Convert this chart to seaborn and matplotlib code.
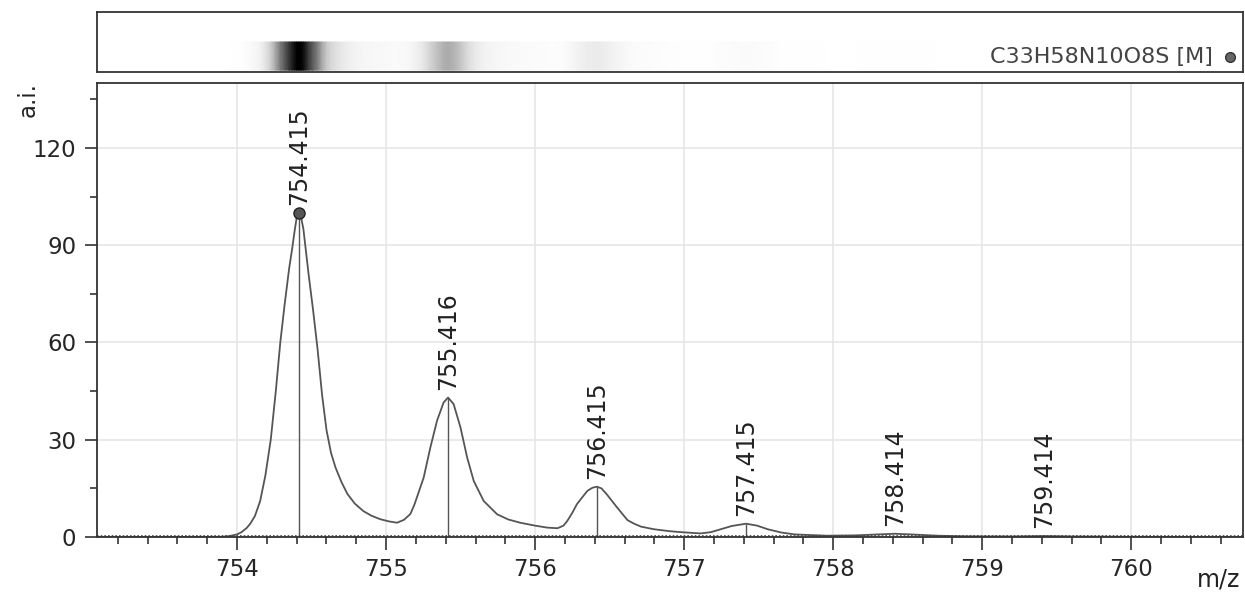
import numpy as np
import pandas as pd
import matplotlib
matplotlib.use("Agg")
import matplotlib.pyplot as plt
import seaborn as sns
from matplotlib.ticker import MultipleLocator

# profile (m/z, a.i.)
mz = [753.06, 753.9, 753.95, 754.0, 754.03, 754.065, 754.09, 754.12, 754.155, 754.19,
      754.226, 754.26, 754.29, 754.32, 754.35, 754.37, 754.385, 754.40, 754.415,
      754.43, 754.445, 754.46, 754.48, 754.51, 754.54, 754.57, 754.60, 754.63, 754.66,
      754.70, 754.74, 754.79, 754.847, 754.90, 754.96, 755.02, 755.073, 755.12, 755.163,
      755.19, 755.22, 755.252, 755.297, 755.342, 755.386, 755.416, 755.453, 755.499, 755.544,
      755.588, 755.655, 755.745, 755.82, 755.90, 756.0, 756.08, 756.15, 756.19, 756.215,
      756.25, 756.28, 756.35, 756.385, 756.415, 756.445, 756.48, 756.55, 756.62, 756.66,
      756.71, 756.796, 756.9, 756.977, 757.11, 757.18, 757.246, 757.32, 757.415, 757.49,
      757.56, 757.65, 757.74, 757.96, 758.15, 758.3, 758.414, 758.52, 758.7, 758.9,
      759.2, 759.414, 759.6, 760.0, 760.75]
intensity = [0.0, 0.05, 0.3, 0.8, 1.5, 2.8, 4.2, 6.5, 11.1, 19.0,
             30.0, 45.0, 60.0, 72.0, 83.0, 89.0, 94.0, 98.5, 100.0,
             98.5, 95.0, 89.0, 81.0, 70.0, 58.0, 44.0, 33.0, 26.0, 21.5,
             17.0, 13.3, 10.3, 8.0, 6.6, 5.5, 4.8, 4.4, 5.3, 7.1,
             10.0, 14.0, 18.3, 27.6, 35.9, 41.5, 43.0, 41.0, 33.8, 24.5,
             17.3, 11.1, 7.0, 5.4, 4.4, 3.5, 2.9, 2.7, 3.5, 4.9,
             7.5, 10.1, 14.2, 15.2, 15.5, 15.0, 13.2, 9.1, 5.2, 4.2,
             3.2, 2.4, 1.8, 1.5, 1.1, 1.5, 2.4, 3.4, 4.1, 3.5,
             2.4, 1.4, 0.8, 0.4, 0.5, 0.8, 1.0, 0.8, 0.4, 0.2,
             0.15, 0.3, 0.15, 0.05, 0.0]

peak_mz = [754.415, 755.416, 756.415, 757.415, 758.414, 759.414]
peak_height = [100.0, 43.0, 15.5, 4.1, 1.0, 0.3]
peak_labels = ["754.415", "755.416", "756.415", "757.415", "758.414", "759.414"]

formula = "C33H58N10O8S [M]"

df = pd.DataFrame({"mz": mz, "ai": intensity})

sns.set_style("white")
plt.rcParams["font.family"] = ["DejaVu Sans"]

line_col = "#555555"
fig = plt.figure(figsize=(12.45, 6.05), dpi=100)
ax = fig.add_axes([0.0779, 0.1124, 0.9205, 0.7504])
top = fig.add_axes([0.0779, 0.881, 0.9205, 0.0992], sharex=ax)

# main spectrum
sns.lineplot(data=df, x="mz", y="ai", ax=ax, color=line_col, linewidth=1.3,
             estimator=None, sort=False)
ax.vlines(peak_mz[:4], 0, peak_height[:4], color=line_col, linewidth=1.0)
ax.plot(peak_mz[0], peak_height[0], "o", color="#555555", mec="#222222",
        ms=8, mew=1, zorder=5)
ax.axhline(0.4, color="#444444", linestyle=(0, (1, 1.2)), linewidth=1.2)

for x, h, lab in zip(peak_mz, peak_height, peak_labels):
    ax.annotate(lab, (x, h), xytext=(0, 8), textcoords="offset pixels",
                rotation=90, ha="center", va="bottom", fontsize=17, color="#222222")

ax.set_xlim(753.06, 760.75)
ax.set_ylim(0, 140)
ax.xaxis.set_major_locator(MultipleLocator(1))
ax.xaxis.set_minor_locator(MultipleLocator(0.2))
ax.yaxis.set_major_locator(MultipleLocator(30))
ax.yaxis.set_minor_locator(MultipleLocator(15))
ax.grid(True, which="major", color="#e6e6e6", linewidth=1.2)
ax.set_axisbelow(True)
ax.tick_params(which="major", direction="out", length=9, width=1.2, color="#333333",
               labelsize=16.5, pad=6, bottom=True, left=True)
ax.tick_params(which="minor", direction="out", length=5, width=1.2, color="#333333",
               bottom=True, left=True)
ax.set_xlabel("")
ax.set_ylabel("")
for s in ax.spines.values():
    s.set_color("#333333")
    s.set_linewidth(1.3)
fig.text(0.013, 0.835, "a.i.", rotation=90, fontsize=16.5, ha="left", va="center", color="#222222")
fig.text(0.996, 0.022, "m/z", fontsize=17, ha="right", va="bottom", color="#222222")

# top strip: grey band of the same profile
X = np.array([mz, mz])
Y = np.array([[0.03] * len(mz), [0.5] * len(mz)])
C = np.array([intensity, intensity])
top.pcolormesh(X, Y, C, shading="gouraud", cmap="Greys", vmin=0, vmax=100)
top.set_ylim(0, 1)
top.tick_params(left=False, bottom=False, labelleft=False, labelbottom=False)
for s in top.spines.values():
    s.set_color("#333333")
    s.set_linewidth(1.3)
top.text(0.974, 0.25, formula, transform=top.transAxes, ha="right", va="center",
         fontsize=16, color="#444444")
top.plot([0.9885], [0.25], "o", transform=top.transAxes, color="#666666",
         mec="#333333", ms=7, mew=1)

fig.savefig("out.png", dpi=100)
